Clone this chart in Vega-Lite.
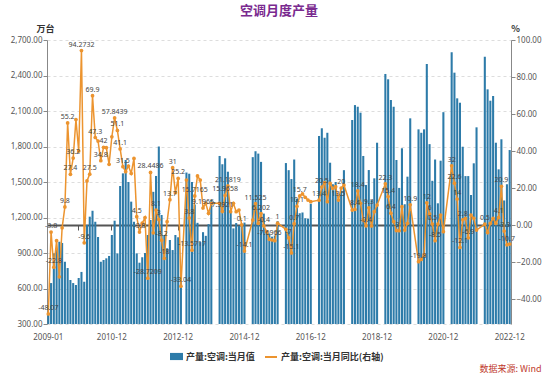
{
"$schema": "https://vega.github.io/schema/vega-lite/v6.json",
"width": 464, "height": 284,
"autosize": {"type": "none"},
"padding": {"left": 47, "top": 40, "right": 39, "bottom": 52},
"background": "white",
"title": {"text": "空调月度产量", "font": "Noto Sans CJK SC", "fontSize": 13, "fontWeight": "bold", "color": "#7A2A8F", "anchor": "middle", "frame": "group", "offset": 6},
"config": {
  "view": {"stroke": null},
  "axis": {"labelFont": "Noto Sans", "labelFontSize": 8, "labelColor": "#555", "titleFont": "Noto Sans CJK SC"},
  "legend": {"labelFont": "Noto Sans CJK SC", "labelFontSize": 9, "labelFontWeight": "bold", "labelColor": "#333", "labelLimit": 300}
},
"data": {"values": [
{"m":"2009-01","v":380,"y":-48.07,"lab":"-48.07"},
{"m":"2009-02","v":646,"y":-3.8,"lab":"-3.8"},
{"m":"2009-03","v":897,"y":-22.8,"lab":"-22.8"},
{"m":"2009-04","v":925,"y":-8.5},
{"m":"2009-05","v":995,"y":-28},
{"m":"2009-06","v":985,"y":-1.5},
{"m":"2009-07","v":826,"y":9.8,"lab":"9.8"},
{"m":"2009-08","v":773,"y":55.2,"lab":"55.2"},
{"m":"2009-09","v":672,"y":27.4,"lab":"27.4"},
{"m":"2009-10","v":646,"y":36.2,"lab":"36.2"},
{"m":"2009-11","v":630,"y":57},
{"m":"2009-12","v":689,"y":40},
{"m":"2010-01","v":740,"y":94.2732,"lab":"94.2732"},
{"m":"2010-02","v":657,"y":-9.6,"lab":"-9.6"},
{"m":"2010-03","v":1137,"y":23.8},
{"m":"2010-04","v":1207,"y":27.5,"lab":"27.5"},
{"m":"2010-05","v":1257,"y":69.9,"lab":"69.9"},
{"m":"2010-06","v":1164,"y":47.3,"lab":"47.3"},
{"m":"2010-07","v":1035,"y":45.4},
{"m":"2010-08","v":826,"y":34.8,"lab":"34.8"},
{"m":"2010-09","v":841,"y":42,"lab":"42"},
{"m":"2010-10","v":855,"y":41.8},
{"m":"2010-11","v":875,"y":32.8},
{"m":"2010-12","v":1052,"y":47.7},
{"m":"2011-01","v":1173,"y":57.8439,"lab":"57.8439"},
{"m":"2011-02","v":897,"y":51.1,"lab":"51.1"},
{"m":"2011-03","v":1466,"y":41.1,"lab":"41.1"},
{"m":"2011-04","v":1573,"y":31.5,"lab":"31.5"},
{"m":"2011-05","v":1686,"y":28.8},
{"m":"2011-06","v":1500,"y":31.9},
{"m":"2011-07","v":1334,"y":27.9},
{"m":"2011-08","v":1164,"y":36},
{"m":"2011-09","v":897,"y":4.5,"lab":"4.5"},
{"m":"2011-10","v":818,"y":-3.8,"lab":"-3.8"},
{"m":"2011-11","v":864,"y":1},
{"m":"2011-12","v":900,"y":4},
{"m":"2012-01","v":1052,"y":-28.7209,"lab":"-28.7209"},
{"m":"2012-02","v":1179,"y":28.4486,"lab":"28.4486"},
{"m":"2012-03","v":1417,"y":-4.2},
{"m":"2012-04","v":1551,"y":8.1,"lab":"8.1"},
{"m":"2012-05","v":1800,"y":3,"lab":"3"},
{"m":"2012-06","v":1221,"y":-8.2,"lab":"-8.2"},
{"m":"2012-07","v":1052,"y":-18,"lab":"-18"},
{"m":"2012-08","v":940,"y":1.8},
{"m":"2012-09","v":1010,"y":13.7,"lab":"13.7"},
{"m":"2012-10","v":925,"y":31,"lab":"31"},
{"m":"2012-11","v":1052,"y":17.5},
{"m":"2012-12","v":1033,"y":25.2,"lab":"25.2"},
{"m":"2013-01","v":705,"y":-33.04,"lab":"-33.04"},
{"m":"2013-02","v":null,"y":null},
{"m":"2013-03","v":1580,"y":24.3},
{"m":"2013-04","v":1570,"y":3.8,"lab":"3.8"},
{"m":"2013-05","v":1500,"y":-13.5717,"lab":"-13.5717"},
{"m":"2013-06","v":1310,"y":15.7165,"lab":"15.7165"},
{"m":"2013-07","v":1155,"y":26.5},
{"m":"2013-08","v":992,"y":24.3},
{"m":"2013-09","v":1076,"y":9.1965,"lab":"9.1965"},
{"m":"2013-10","v":1045,"y":11.7},
{"m":"2013-11","v":1144,"y":6.3},
{"m":"2013-12","v":1347,"y":11.7},
{"m":"2014-01","v":null,"y":null},
{"m":"2014-02","v":null,"y":null},
{"m":"2014-03","v":1720,"y":11.7},
{"m":"2014-04","v":1650,"y":7.3921,"lab":"7.3921"},
{"m":"2014-05","v":1700,"y":15.9658,"lab":"15.9658"},
{"m":"2014-06","v":1587,"y":21.1819,"lab":"21.1819"},
{"m":"2014-07","v":1238,"y":7.2},
{"m":"2014-08","v":1108,"y":11.7},
{"m":"2014-09","v":1153,"y":7.2},
{"m":"2014-10","v":1130,"y":8.1},
{"m":"2014-11","v":1145,"y":0.1,"lab":"0.1"},
{"m":"2014-12","v":1157,"y":-14.1,"lab":"-14.1"},
{"m":"2015-01","v":null,"y":null},
{"m":"2015-02","v":null,"y":null},
{"m":"2015-03","v":1710,"y":2.7},
{"m":"2015-04","v":1760,"y":11.525,"lab":"11.525"},
{"m":"2015-05","v":1740,"y":0.9},
{"m":"2015-06","v":1670,"y":6.202,"lab":"6.202"},
{"m":"2015-07","v":1233,"y":-0.4,"lab":"-0.4"},
{"m":"2015-08","v":1068,"y":-3.6},
{"m":"2015-09","v":1064,"y":-7.6966,"lab":"-7.6966"},
{"m":"2015-10","v":1038,"y":-8.1},
{"m":"2015-11","v":1048,"y":-8.5},
{"m":"2015-12","v":1169,"y":1,"lab":"1"},
{"m":"2016-01","v":null,"y":null},
{"m":"2016-02","v":null,"y":null},
{"m":"2016-03","v":1660,"y":-2.3},
{"m":"2016-04","v":1600,"y":-7,"lab":"-7"},
{"m":"2016-05","v":1525,"y":-15.1,"lab":"-15.1"},
{"m":"2016-06","v":1690,"y":0.7,"lab":"0.7"},
{"m":"2016-07","v":1358,"y":10.1,"lab":"10.1"},
{"m":"2016-08","v":1236,"y":15.7,"lab":"15.7"},
{"m":"2016-09","v":1243,"y":16.8},
{"m":"2016-10","v":1194,"y":15},
{"m":"2016-11","v":1190,"y":13.5},
{"m":"2016-12","v":1316,"y":12.6},
{"m":"2017-01","v":null,"y":null},
{"m":"2017-02","v":null,"y":null},
{"m":"2017-03","v":1889,"y":13.4,"lab":"13.4"},
{"m":"2017-04","v":1954,"y":20.5,"lab":"20.5"},
{"m":"2017-05","v":1874,"y":22.9},
{"m":"2017-06","v":1916,"y":12.6},
{"m":"2017-07","v":1663,"y":22.5},
{"m":"2017-08","v":1481,"y":19.8},
{"m":"2017-09","v":1500,"y":20.7},
{"m":"2017-10","v":1355,"y":13.5,"lab":"13.5"},
{"m":"2017-11","v":1428,"y":20,"lab":"20"},
{"m":"2017-12","v":1600,"y":21.6},
{"m":"2018-01","v":null,"y":null},
{"m":"2018-02","v":null,"y":null},
{"m":"2018-03","v":2024,"y":8.1},
{"m":"2018-04","v":2150,"y":8.4,"lab":"8.4"},
{"m":"2018-05","v":2136,"y":18.4,"lab":"18.4"},
{"m":"2018-06","v":2086,"y":11.7},
{"m":"2018-07","v":1720,"y":2.7},
{"m":"2018-08","v":1475,"y":-0.4,"lab":"-0.4"},
{"m":"2018-09","v":1601,"y":9.3,"lab":"9.3"},
{"m":"2018-10","v":1348,"y":-0.5},
{"m":"2018-11","v":1531,"y":7.2},
{"m":"2018-12","v":1832,"y":10.8},
{"m":"2019-01","v":null,"y":null},
{"m":"2019-02","v":null,"y":null},
{"m":"2019-03","v":2413,"y":22.3,"lab":"22.3"},
{"m":"2019-04","v":2368,"y":15.4,"lab":"15.4"},
{"m":"2019-05","v":2193,"y":6.4,"lab":"6.4"},
{"m":"2019-06","v":2136,"y":1.8},
{"m":"2019-07","v":1686,"y":-3,"lab":"-3"},
{"m":"2019-08","v":1450,"y":-3.1},
{"m":"2019-09","v":1785,"y":9.9},
{"m":"2019-10","v":1312,"y":-2.7},
{"m":"2019-11","v":1545,"y":0.9},
{"m":"2019-12","v":2038,"y":10.9,"lab":"10.9"},
{"m":"2020-01","v":null,"y":null},
{"m":"2020-02","v":null,"y":null},
{"m":"2020-03","v":1945,"y":-19.8,"lab":"-19.8"},
{"m":"2020-04","v":1916,"y":-18.6},
{"m":"2020-05","v":1945,"y":-16.2},
{"m":"2020-06","v":2497,"y":12,"lab":"12"},
{"m":"2020-07","v":1820,"y":6,"lab":"6"},
{"m":"2020-08","v":1510,"y":0.5,"lab":"0.5"},
{"m":"2020-09","v":1690,"y":-8.5,"lab":"-8.5"},
{"m":"2020-10","v":1320,"y":0.5},
{"m":"2020-11","v":1680,"y":5.4},
{"m":"2020-12","v":2090,"y":-3.6},
{"m":"2021-01","v":null,"y":null},
{"m":"2021-02","v":null,"y":null},
{"m":"2021-03","v":2596,"y":32,"lab":"32"},
{"m":"2021-04","v":2424,"y":22.6,"lab":"22.6"},
{"m":"2021-05","v":2207,"y":14,"lab":"14"},
{"m":"2021-06","v":2170,"y":-12.1,"lab":"-12.1"},
{"m":"2021-07","v":1798,"y":2.8,"lab":"2.8"},
{"m":"2021-08","v":1550,"y":3.6},
{"m":"2021-09","v":1550,"y":-6.9,"lab":"-6.9"},
{"m":"2021-10","v":1390,"y":5.4},
{"m":"2021-11","v":1658,"y":3.6},
{"m":"2021-12","v":1962,"y":-2.7},
{"m":"2022-01","v":null,"y":null},
{"m":"2022-02","v":null,"y":null},
{"m":"2022-03","v":2559,"y":0.5,"lab":"0.5"},
{"m":"2022-04","v":2283,"y":-4.1},
{"m":"2022-05","v":2187,"y":0.9},
{"m":"2022-06","v":2227,"y":3.6},
{"m":"2022-07","v":1832,"y":0.9},
{"m":"2022-08","v":1607,"y":4.1,"lab":"4.1"},
{"m":"2022-09","v":1861,"y":20.9,"lab":"20.9"},
{"m":"2022-10","v":1344,"y":-3.3,"lab":"-3.3"},
{"m":"2022-11","v":1481,"y":-10.7,"lab":"-10.7"},
{"m":"2022-12","v":1770,"y":-10.3}
]},
"layer": [
  {
    "transform": [{"filter": "datum.v != null"}],
    "mark": {"type": "bar"},
    "encoding": {
      "x": {"field": "m", "type": "ordinal", "sort": null,
        "scale": {"paddingInner": 0.25, "paddingOuter": 0.1, "domain": ["2009-01","2009-02","2009-03","2009-04","2009-05","2009-06","2009-07","2009-08","2009-09","2009-10","2009-11","2009-12","2010-01","2010-02","2010-03","2010-04","2010-05","2010-06","2010-07","2010-08","2010-09","2010-10","2010-11","2010-12","2011-01","2011-02","2011-03","2011-04","2011-05","2011-06","2011-07","2011-08","2011-09","2011-10","2011-11","2011-12","2012-01","2012-02","2012-03","2012-04","2012-05","2012-06","2012-07","2012-08","2012-09","2012-10","2012-11","2012-12","2013-01","2013-02","2013-03","2013-04","2013-05","2013-06","2013-07","2013-08","2013-09","2013-10","2013-11","2013-12","2014-01","2014-02","2014-03","2014-04","2014-05","2014-06","2014-07","2014-08","2014-09","2014-10","2014-11","2014-12","2015-01","2015-02","2015-03","2015-04","2015-05","2015-06","2015-07","2015-08","2015-09","2015-10","2015-11","2015-12","2016-01","2016-02","2016-03","2016-04","2016-05","2016-06","2016-07","2016-08","2016-09","2016-10","2016-11","2016-12","2017-01","2017-02","2017-03","2017-04","2017-05","2017-06","2017-07","2017-08","2017-09","2017-10","2017-11","2017-12","2018-01","2018-02","2018-03","2018-04","2018-05","2018-06","2018-07","2018-08","2018-09","2018-10","2018-11","2018-12","2019-01","2019-02","2019-03","2019-04","2019-05","2019-06","2019-07","2019-08","2019-09","2019-10","2019-11","2019-12","2020-01","2020-02","2020-03","2020-04","2020-05","2020-06","2020-07","2020-08","2020-09","2020-10","2020-11","2020-12","2021-01","2021-02","2021-03","2021-04","2021-05","2021-06","2021-07","2021-08","2021-09","2021-10","2021-11","2021-12","2022-01","2022-02","2022-03","2022-04","2022-05","2022-06","2022-07","2022-08","2022-09","2022-10","2022-11","2022-12"]},
        "axis": {"values": ["2009-01","2010-12","2012-12","2014-12","2016-12","2018-12","2020-12","2022-12"], "labelAngle": 0, "ticks": false, "tickSize": 0, "domain": false, "labelPadding": 9, "labelColor": "#555",
          "title": "数据来源: Wind", "titleColor": "#C0392B", "titleFontSize": 9, "titleFontWeight": "normal", "titleAnchor": "end", "titleAlign": "right", "titleX": 494, "titleY": 44, "titleBaseline": "middle", "orient": "bottom"}},
      "y": {"field": "v", "type": "quantitative",
        "scale": {"domain": [300, 2700], "zero": false, "nice": false},
        "axis": {"values": [300,600,900,1200,1500,1800,2100,2400,2700], "format": ",.2f", "grid": true, "gridDash": [3,3], "gridColor": "#DDDDDD", "domainColor": "#888", "tickColor": "#888", "tickSize": 4, "labelPadding": 1,
          "title": "万台", "titleAngle": 0, "titleFontSize": 9, "titleFontWeight": "bold", "titleColor": "#333", "titleX": -2, "titleY": -12, "titleAlign": "center", "titleBaseline": "middle"}},
      "y2": {"datum": 300},
      "color": {"datum": "产量:空调:当月值",
        "scale": {"range": ["#2D7BA9"]},
        "legend": {"orient": "none", "legendX": 123, "legendY": 310, "title": null, "symbolType": "M-1,-0.55L1,-0.55L1,0.55L-1,0.55Z", "symbolSize": 169, "symbolStrokeWidth": 0, "labelOffset": 3}}
    }
  },
  {
    "transform": [{"filter": "datum.y != null"}],
    "layer": [
      {
        "mark": {"type": "line", "strokeWidth": 1.5, "invalid": "filter"},
        "encoding": {
          "x": {"field": "m", "type": "ordinal", "sort": null,
            "axis": {"orient": "bottom", "offset": -99, "labels": false, "title": null, "values": ["2009-12","2010-12","2011-12","2012-12","2013-12","2014-12","2015-12","2016-12","2017-12","2018-12","2019-12","2020-12","2021-12"], "domainColor": "#555", "domainWidth": 2, "tickColor": "#555", "tickSize": 5, "ticks": true}},
          "y": {"field": "y", "type": "quantitative",
            "scale": {"domain": [-53.5, 100], "zero": false, "nice": false},
            "axis": {"orient": "right", "values": [-40,-20,0,20,40,60,80,100], "format": ".2f", "grid": false, "domainColor": "#888", "tickColor": "#888", "tickSize": 4, "labelPadding": 1,
              "title": "%", "titleAngle": 0, "titleFontSize": 9, "titleFontWeight": "bold", "titleColor": "#333", "titleX": 4, "titleY": -12, "titleAlign": "center", "titleBaseline": "middle"}},
          "color": {"datum": "产量:空调:当月同比(右轴)",
            "scale": {"range": ["#EC942F"]},
            "legend": {"orient": "none", "legendX": 217, "legendY": 310, "title": null, "symbolType": "stroke", "symbolSize": 144, "symbolStrokeWidth": 2, "labelOffset": 3}}
        }
      },
      {
        "mark": {"type": "point", "filled": true, "size": 14, "color": "#EC942F", "opacity": 1},
        "encoding": {
          "x": {"field": "m", "type": "ordinal", "sort": null},
          "y": {"field": "y", "type": "quantitative"}
        }
      },
      {
        "transform": [{"filter": "isValid(datum.lab)"}],
        "mark": {"type": "text", "fontSize": 7, "font": "Noto Sans", "color": "#444", "dy": -6},
        "encoding": {
          "x": {"field": "m", "type": "ordinal", "sort": null},
          "y": {"field": "y", "type": "quantitative"},
          "text": {"field": "lab"}
        }
      }
    ]
  }
],
"resolve": {"scale": {"y": "independent", "color": "independent"}, "axis": {"x": "independent"}}
}
